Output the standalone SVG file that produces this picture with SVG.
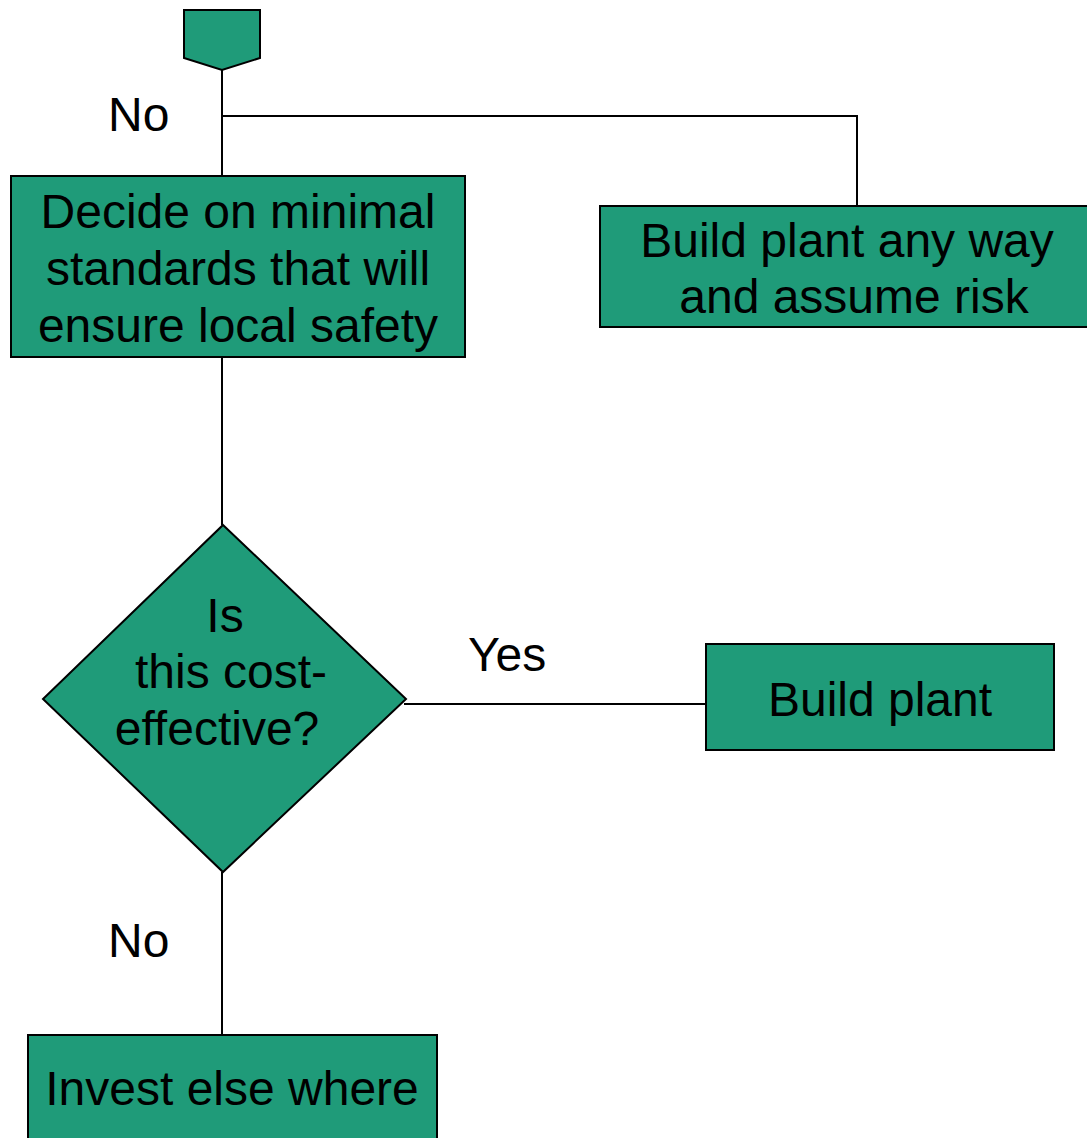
<svg xmlns="http://www.w3.org/2000/svg" width="1087" height="1138" viewBox="0 0 1087 1138">
<style>
.n{fill:#1f9b79;stroke:#000;stroke-width:2}
.c{fill:none;stroke:#000;stroke-width:2}
text{font-family:"Liberation Sans",Arial,sans-serif;font-size:48px;fill:#000}
.m{text-anchor:middle}
</style>
<rect width="1087" height="1138" fill="#fff"/>
<g id="connectors">
<polyline class="c" points="222,70 222,176"/>
<polyline class="c" points="222,116 857,116 857,206"/>
<polyline class="c" points="222,357 222,525"/>
<polyline class="c" points="404,704 706,704"/>
<polyline class="c" points="222,872 222,1035"/>
</g>
<g id="start"><polygon class="n" points="184,10 260,10 260,58 222,70 184,58"/></g>
<g id="decide"><rect class="n" x="11" y="176" width="454" height="181"/>
<text class="m" x="238" y="228">Decide on minimal</text>
<text class="m" x="238" y="285">standards that will</text>
<text class="m" x="238" y="342">ensure local safety</text></g>
<g id="anyway"><rect class="n" x="600" y="206" width="490" height="121"/>
<text class="m" x="847" y="257">Build plant any way</text>
<text class="m" x="854" y="313">and assume risk</text></g>
<g id="decision"><polygon class="n" points="223,525 406,699 223,872 43,699"/>
<text class="m" x="225" y="632">Is</text>
<text class="m" x="231" y="688">this cost-</text>
<text class="m" x="217" y="745">effective?</text></g>
<g id="build"><rect class="n" x="706" y="644" width="348" height="106"/>
<text class="m" x="880" y="716">Build plant</text></g>
<g id="invest"><rect class="n" x="28" y="1035" width="409" height="120"/>
<text class="m" x="232" y="1105">Invest else where</text></g>
<g id="labels">
<text x="108" y="131">No</text>
<text x="468" y="671">Yes</text>
<text x="108" y="957">No</text>
</g>
</svg>
